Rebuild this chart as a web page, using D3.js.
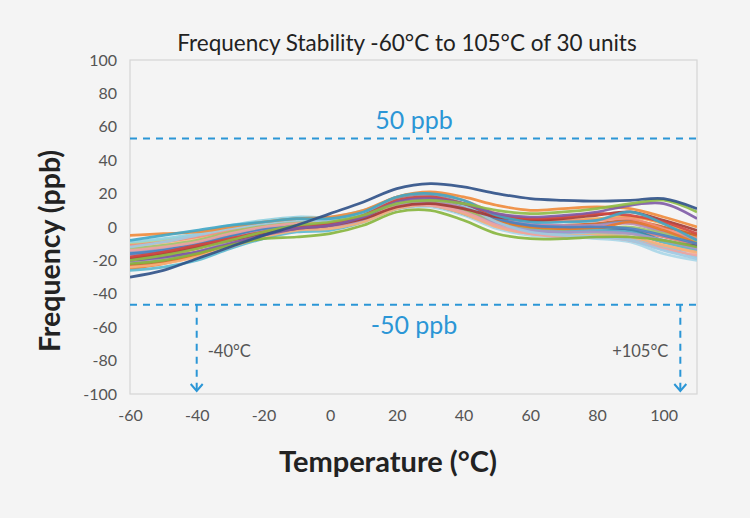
<!DOCTYPE html>
<html><head><meta charset="utf-8">
<script src="https://cdn.jsdelivr.net/npm/d3@7"></script>
<style>
html,body{margin:0;padding:0;background:#f4f4f4;}
svg{display:block;}
</style></head>
<body>
<script>
const temps = [-60,-50,-40,-30,-20,-10,0,10,20,30,40,50,60,70,80,90,100,110];
const xTicks = [-60,-40,-20,0,20,40,60,80,100];
const yTicks = [100,80,60,40,20,0,-20,-40,-60,-80,-100];
const limitValues = [53,-46.5];
const limitLabels = ["50 ppb","-50 ppb"];
const markerTemps = [-40,105];
const markerLabels = ["-40°C","+105°C"];
const colors = ["#2E5087","#8DBB45","#86B53C","#7E5AA6","#3FA6C6","#F08A3A","#D0453D","#A33A35","#9DC9E3","#EFA2A0",
"#4A82C0","#F7B07A","#A995C8","#5BB8CF","#E8782A","#9FC36A","#F28E7A","#B98DB6","#6C93C7","#C8622B",
"#8FD0E0","#B7D48A","#5E4B8B","#2E8CA8","#F9C08E","#D97A7A","#9AA8D8","#C4B4DA","#A9D6E8","#F5A24A"];
const u01=[-30,-26,-19,-12,-5,1,8,15,23,26,24,20,17,16,15.5,16,17,11];
const u02=[-20,-17,-13,-8,-3,1,3,7,14,16,14,10,8,9,11,14,16,9];
const u03=[-22,-20,-16,-11,-7,-6,-4,1,9,10,4,-4,-7,-7,-6,-6,-8,-12];
const u04=[-20,-18,-15,-10,-5,-1,1,6,15,17,14,8,6,7,9,13,14,5];
const u05=[-8,-5,-2,1,3,5,5,9,18,20,16,7,3,3,4,9,2,-8];
const u06=[-5,-4,-3,0,3,5,6,10,18,21,18,13,10,11,12,11,6,0];
const u07=[-18,-15,-11,-7,-3,0,2,7,16,18,14,7,5,6,8,7,3,-4];
const u08=[-19,-16,-12,-8,-4,-1,1,5,12,14,11,6,4,5,7,9,4,-2];
const u09=[-12,-9,-5,-1,2,4,4,8,16,18,13,3,-3,-5,-6,-8,-14,-19];
const u10=[-14,-12,-9,-4,0,2,3,6,12,13,9,1,-4,-6,-6,-8,-13,-17];
const u11=[-16,-14,-10,-5,-1,1,2,7,16,18,13,5,1,0,0,-1,-5,-10];
const u12=[-24,-22,-18,-12,-6,-2,-1,3,11,13,8,0,-4,-5,-5,-6,-11,-15];
const u13=[-21,-19,-15,-9,-4,-1,0,4,12,14,9,2,-2,-3,-3,-4,-8,-13];
const u14=[-26,-24,-20,-13,-7,-3,-2,3,11,13,8,1,-2,-3,-2,-3,-9,-14];
const u15=[-25,-22,-17,-10,-4,0,1,6,16,18,13,4,0,-1,-1,3,-2,-10];
const u16=[-13,-11,-8,-3,1,3,3,6,12,14,10,3,-1,-2,-1,0,-4,-9];
const u17=[-11,-9,-6,-2,1,3,4,9,18,20,16,8,5,4,4,5,-1,-7];
const u18=[-17,-15,-12,-7,-2,1,2,6,13,15,12,6,2,1,1,2,-3,-8];
const u19=[-15,-13,-9,-4,0,2,3,8,17,19,14,5,1,0,1,3,-3,-7];
const u20=[-23,-21,-16,-9,-3,0,1,5,12,14,10,4,1,1,2,4,0,-5];
const u21=[-9,-7,-4,1,4,6,6,10,17,18,12,2,-3,-4,-5,-7,-12,-18];
const u22=[-10,-8,-5,-1,2,4,4,7,13,14,9,1,-3,-4,-4,-4,-9,-14];
const u23=[-20,-18,-15,-10,-5,-2,0,4,12,14,10,4,1,0,-1,-3,-9,-11];
const u24=[-17,-15,-11,-6,-2,1,2,6,13,15,11,3,-1,-2,-2,-2,-8,-12];
const u25=[-12,-10,-7,-3,1,3,4,9,17,19,14,5,0,-2,-3,-4,-10,-16];
const u26=[-18,-16,-13,-8,-3,0,1,5,12,14,10,3,0,-1,-1,-2,-6,-11];
const u27=[-22,-20,-16,-10,-4,-1,0,4,11,13,8,1,-3,-4,-4,-6,-12,-15];
const u28=[-14,-12,-9,-4,0,2,3,6,12,13,8,0,-4,-5,-5,-6,-11,-14];
const u29=[-16,-13,-9,-4,0,2,3,6,11,12,7,-1,-5,-6,-7,-9,-16,-20];
const u30=[-19,-17,-13,-7,-2,1,2,7,16,18,14,7,4,4,5,6,2,-6];
const units=[u01,u02,u03,u04,u05,u06,u07,u08,u09,u10,u11,u12,u13,u14,u15,u16,u17,u18,u19,u20,u21,u22,u23,u24,u25,u26,u27,u28,u29,u30];

const W=750,H=518;
const m={l:130,r:697,t:60,b:394};
const svg=d3.select("body").append("svg").attr("width",W).attr("height",H);
svg.append("rect").attr("width",W).attr("height",H).attr("fill","#f4f4f4");
const x=d3.scaleLinear().domain([-60,110]).range([m.l,m.r]);
const y=d3.scaleLinear().domain([-100,100]).range([m.b,m.t]);
const font="Lato, 'Open Sans', sans-serif";

// title
svg.append("text").attr("x",407).attr("y",51).attr("text-anchor","middle")
 .attr("font-family",font).attr("font-size",22.5).attr("fill","#222")
 .text("Frequency Stability -60°C to 105°C of 30 units");

// plot border
svg.append("rect").attr("x",m.l).attr("y",m.t).attr("width",m.r-m.l).attr("height",m.b-m.t)
 .attr("fill","none").attr("stroke","#d4d4d4").attr("stroke-width",1.2);

// axes
const fmt=d=>String(d);
const yAxis=d3.axisLeft(y).tickValues(yTicks).tickSize(0).tickPadding(13).tickFormat(fmt);
const gy=svg.append("g").attr("transform",`translate(${m.l},0)`).call(yAxis);
gy.select(".domain").remove();
gy.selectAll("text").attr("font-family",font).attr("font-size",16).attr("fill","#555");
const xAxis=d3.axisBottom(x).tickValues(xTicks).tickSize(0).tickPadding(16).tickFormat(fmt);
const gx=svg.append("g").attr("transform",`translate(0,${m.b})`).call(xAxis);
gx.select(".domain").remove();
gx.selectAll("text").attr("font-family",font).attr("font-size",16).attr("fill","#555");

// axis titles
svg.append("text").attr("transform","translate(60,251) rotate(-90)").attr("text-anchor","middle")
 .attr("font-family",font).attr("font-weight","bold").attr("font-size",28.5).attr("fill","#222")
 .text("Frequency (ppb)");
svg.append("text").attr("x",388).attr("y",472).attr("text-anchor","middle")
 .attr("font-family",font).attr("font-weight","bold").attr("font-size",29).attr("fill","#222")
 .text("Temperature (°C)");

// curves
const line=d3.line().x((d,i)=>x(temps[i])).y(d=>y(d)).curve(d3.curveCatmullRom.alpha(0.5));
svg.append("clipPath").attr("id","clp").append("rect").attr("x",m.l).attr("y",m.t).attr("width",m.r-m.l).attr("height",m.b-m.t);
const gl=svg.append("g").attr("clip-path","url(#clp)");
units.slice().reverse().forEach((u,k)=>{
  const i=units.length-1-k;
  gl.append("path").datum(u).attr("d",line).attr("fill","none")
   .attr("stroke",colors[i]).attr("stroke-width",2.7).attr("stroke-opacity",0.9);
});

// limit lines
const blue="#2b96d6";
limitValues.forEach((v,i)=>{
  svg.append("line").attr("x1",m.l).attr("x2",m.r).attr("y1",y(v)).attr("y2",y(v))
   .attr("stroke",blue).attr("stroke-width",2).attr("stroke-dasharray","7,6");
  svg.append("text").attr("x",414).attr("y",y(v)+(i===0?-9:29)).attr("text-anchor","middle")
   .attr("font-family",font).attr("font-size",25).attr("fill",blue).text(limitLabels[i]);
});

// marker arrows
markerTemps.forEach((t,i)=>{
  const xx=x(t);
  svg.append("line").attr("x1",xx).attr("x2",xx).attr("y1",y(limitValues[1])).attr("y2",m.b-3)
   .attr("stroke",blue).attr("stroke-width",2).attr("stroke-dasharray","7,6");
  svg.append("path").attr("d",`M${xx-6},${m.b-10}L${xx},${m.b-3}L${xx+6},${m.b-10}`)
   .attr("fill","none").attr("stroke",blue).attr("stroke-width",2);
  svg.append("text").attr("x",i===0?xx+11:xx-12).attr("y",357).attr("text-anchor",i===0?"start":"end")
   .attr("font-family",font).attr("font-size",16.5).attr("fill","#555").text(markerLabels[i]);
});
</script>
</body></html>
